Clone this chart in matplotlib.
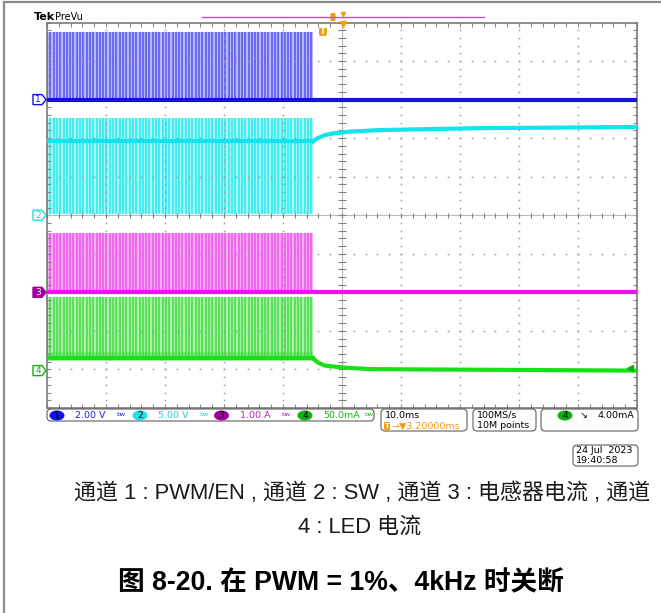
import numpy as np
import matplotlib.pyplot as plt
from matplotlib.patches import FancyBboxPatch, Polygon, Ellipse
from matplotlib.transforms import blended_transform_factory

plt.rcParams['font.family'] = ['DejaVu Sans']

W, H = 661, 613

# --- waveforms, in screen divisions (10 x 10 grid, centre = 0) ---
pulse_start, pulse_stop, pulse_pitch = -5.0, -0.49, 0.056

ch_ground = [3.0, 0.0, -2.0, -4.03]          # channel marker levels
ch1_level, ch1_top = 3.0, 4.75
ch2_level, ch2_top, ch2_bottom = 1.92, 2.52, 0.03
ch3_level, ch3_top = -2.0, -0.47
ch4_level, ch4_top = -3.71, -2.13
ch4_ripple_lo, ch4_ripple_hi = -3.78, -3.55

ch2_off_x = [-0.49, -0.41, -0.29, -0.12, 0.14, 0.64, 1.32, 2.34, 3.36, 5.0]
ch2_off_y = [1.92, 2.0, 2.08, 2.13, 2.17, 2.21, 2.23, 2.26, 2.27, 2.29]
ch4_off_x = [-0.49, -0.41, -0.29, 0.02, 0.47, 1.32, 2.68, 5.0]
ch4_off_y = [-3.71, -3.82, -3.90, -3.95, -3.99, -4.0, -4.01, -4.03]
ch4_trig_level = -3.95

# --- readouts / captions ---
scales = ['2.00 V', '5.00 V', '1.00 A', '50.0mA']
timebase, trig_pos = '10.0ms', '\u2192\u25bc3.20000ms'
rate, points = '100MS/s', '10M points'
trig_text = '4.00mA'
date, clock = '24 Jul  2023', '19:40:58'
caption1 = '通道 1 : PWM/EN , 通道 2 : SW , 通道 3 : 电感器电流 , 通道'
caption2 = '4 : LED 电流'
title = '图 8-20. 在 PWM = 1%、4kHz 时关断'

c_dark = ['#1414dc', '#10e4ec', '#f010f0', '#18e018']
c_fill = ['#b8b8ff', '#aaf8fa', '#f8acf8', '#acf0ac']
c_strp = ['#6464f2', '#3aecf0', '#ee62ee', '#52e052']
c_text = ['#2020e0', '#20d0e0', '#c020c0', '#10b810']
c_badge = ['#1010e8', '#20e0e8', '#a000a0', '#10b010']

fig = plt.figure(figsize=(W / 100, H / 100), dpi=100)
ax = fig.add_axes([47 / W, 1 - 408 / H, 590 / W, 385.5 / H])
ax.set_xlim(-5, 5); ax.set_ylim(-5, 5)
for s in ax.spines.values():
    s.set_color('#7a7a7a'); s.set_linewidth(1.2)
fine = np.arange(-5, 5.01, 0.2)
ax.set_xticks(fine); ax.set_yticks(fine)
ax.tick_params(direction='in', length=3, width=0.8, color='#8a8a8a', top=True, right=True,
               labelbottom=False, labelleft=False)

# graticule
for k in range(-4, 5):
    if k == 0:
        continue
    ax.plot(fine, np.full_like(fine, k), ls='none', marker='s', ms=1.1, mew=0, color='#9a9a9a', zorder=2)
    ax.plot(np.full_like(fine, k), fine, ls='none', marker='s', ms=1.1, mew=0, color='#9a9a9a', zorder=2)
ax.axhline(0, color='#b8b8b8', lw=0.8, zorder=2)
ax.axvline(0, color='#b8b8b8', lw=0.8, zorder=2)
ax.vlines(fine, -0.07, 0.07, color='#808080', lw=0.8, zorder=2)
ax.hlines(fine, -0.06, 0.06, color='#808080', lw=0.8, zorder=2)

tp = np.arange(pulse_start, pulse_stop, pulse_pitch)


def burst(lo, hi, i):
    ax.fill_between([pulse_start, pulse_stop], lo, hi, color=c_fill[i], lw=0, zorder=1)
    ax.vlines(tp, lo, hi, color=c_strp[i], lw=1.3, zorder=1)


burst(ch1_level, ch1_top, 0)
burst(ch2_bottom, ch2_top, 1)
burst(ch3_level, ch3_top, 2)
burst(ch4_level, ch4_top, 3)
ax.fill_between([pulse_start, pulse_stop], ch4_ripple_lo, ch4_ripple_hi, color='#44dc44', lw=0, zorder=1, alpha=0.45)

ax.plot([-5, 5], [ch1_level, ch1_level], color=c_dark[0], lw=3, zorder=3)
ax.plot([-5, pulse_stop], [ch2_level, ch2_level], color=c_dark[1], lw=3, zorder=3)
ax.plot(ch2_off_x, ch2_off_y, color=c_dark[1], lw=3, zorder=3)
ax.plot([-5, 5], [ch3_level, ch3_level], color=c_dark[2], lw=3, zorder=3)
ax.plot([-5, pulse_stop], [ch4_level, ch4_level], color=c_dark[3], lw=3, zorder=3)
ax.plot(ch4_off_x, ch4_off_y, color=c_dark[3], lw=3, zorder=3)
ax.plot([4.88], [ch4_trig_level], marker='<', ms=4, color='#10b010', zorder=4)

# --- overlay in pixel coordinates ---
ov = fig.add_axes([0, 0, 1, 1], zorder=5)
ov.set_xlim(0, W); ov.set_ylim(H, 0); ov.axis('off')

ov.plot([4, 4], [2, H], color='#8c8c8c', lw=1.6)
ov.plot([4, W], [2, 2], color='#8c8c8c', lw=1.6)

ov.text(34, 17, 'Tek', fontsize=8, fontweight='bold', va='center')
ov.text(55, 17, 'PreVu', fontsize=7, va='center')
ov.plot([202, 484], [17, 17], color='#b455c8', lw=1)
ov.add_patch(FancyBboxPatch((330.5, 13), 5, 8, boxstyle='round,pad=0,rounding_size=1', fc='#f0a010', ec='none'))
ov.plot([343], [14], marker='v', ms=3, color='#f0a010')
ov.plot([343], [24], marker='v', ms=5, color='#f0a010')
ov.add_patch(FancyBboxPatch((319, 27), 8, 9, boxstyle='round,pad=0,rounding_size=2', fc='#f0a010', ec='none'))
ov.text(323, 31.5, 'T', fontsize=6, color='white', ha='center', va='center', fontweight='bold')

# channel ground tags
tag_tr = blended_transform_factory(ov.transData, ax.transData)
for i, g in enumerate(ch_ground):
    pts = [(33, g + 0.13), (42, g + 0.13), (46, g), (42, g - 0.13), (33, g - 0.13)]
    filled = i == 2
    ov.add_patch(Polygon(pts, closed=True, transform=tag_tr, fc=c_badge[i] if filled else 'white',
                         ec=c_badge[i], lw=1))
    ov.text(38, g, str(i + 1), transform=tag_tr, fontsize=6.5, ha='center', va='center',
            color='white' if filled else c_badge[i])

# readout boxes
box_kw = dict(boxstyle='round,pad=0,rounding_size=4', fc='white', ec='#606060', lw=0.8)
ov.add_patch(FancyBboxPatch((47, 409), 327, 12, **box_kw))
ov.add_patch(FancyBboxPatch((381, 409), 86, 22, **box_kw))
ov.add_patch(FancyBboxPatch((473, 409), 63, 22, **box_kw))
ov.add_patch(FancyBboxPatch((541, 409), 97, 22, **box_kw))
ov.add_patch(FancyBboxPatch((573, 445), 65, 21, **box_kw))

badge_x = [57, 140, 221.5, 305]
for i in range(4):
    bx = badge_x[i]
    ov.add_patch(Ellipse((bx, 415.5), 15, 10, fc=c_badge[i], ec='none'))
    ov.text(bx, 415.5, str(i + 1), fontsize=6.5, ha='center', va='center', color='black')
    ov.text(bx + 18, 415.5, scales[i], fontsize=6.8, ha='left', va='center', color=c_text[i])
    ov.text(bx + 64, 415, 'bw', fontsize=4.5, ha='center', va='center', color=c_text[i])

ov.text(385, 415.5, timebase, fontsize=6.8, va='center')
ov.add_patch(FancyBboxPatch((384, 422), 6, 8, boxstyle='round,pad=0,rounding_size=1', fc='#f0a010', ec='none'))
ov.text(387, 426, 'T', fontsize=5, color='white', ha='center', va='center', fontweight='bold')
ov.text(391, 426, trig_pos, fontsize=6.8, va='center', color='#f09a10')
ov.text(477, 415.5, rate, fontsize=6.8, va='center')
ov.text(477, 426, points, fontsize=6.8, va='center')
ov.add_patch(Ellipse((565, 415.5), 15, 10, fc=c_badge[3], ec='none'))
ov.text(565, 415.5, '4', fontsize=6.5, ha='center', va='center')
ov.text(584, 415.5, '\u2198', fontsize=6.8, ha='center', va='center')
ov.text(634, 415.5, trig_text, fontsize=6.8, ha='right', va='center')
ov.text(576, 450.5, date, fontsize=6.8, va='center')
ov.text(576, 460.5, clock, fontsize=6.8, va='center')

cap_font = ['Liberation Sans', 'Noto Sans CJK SC']
ov.text(362, 493, caption1, fontsize=15.8, family=cap_font, ha='center', va='center', color='#1a1a1a')
ov.text(360, 527, caption2, fontsize=15.8, family=cap_font, ha='center', va='center', color='#1a1a1a')
ov.text(341, 583, title, fontsize=19.2, family=cap_font, fontweight='bold', ha='center', va='center', color='black')

fig.savefig('out.png', dpi=100)
